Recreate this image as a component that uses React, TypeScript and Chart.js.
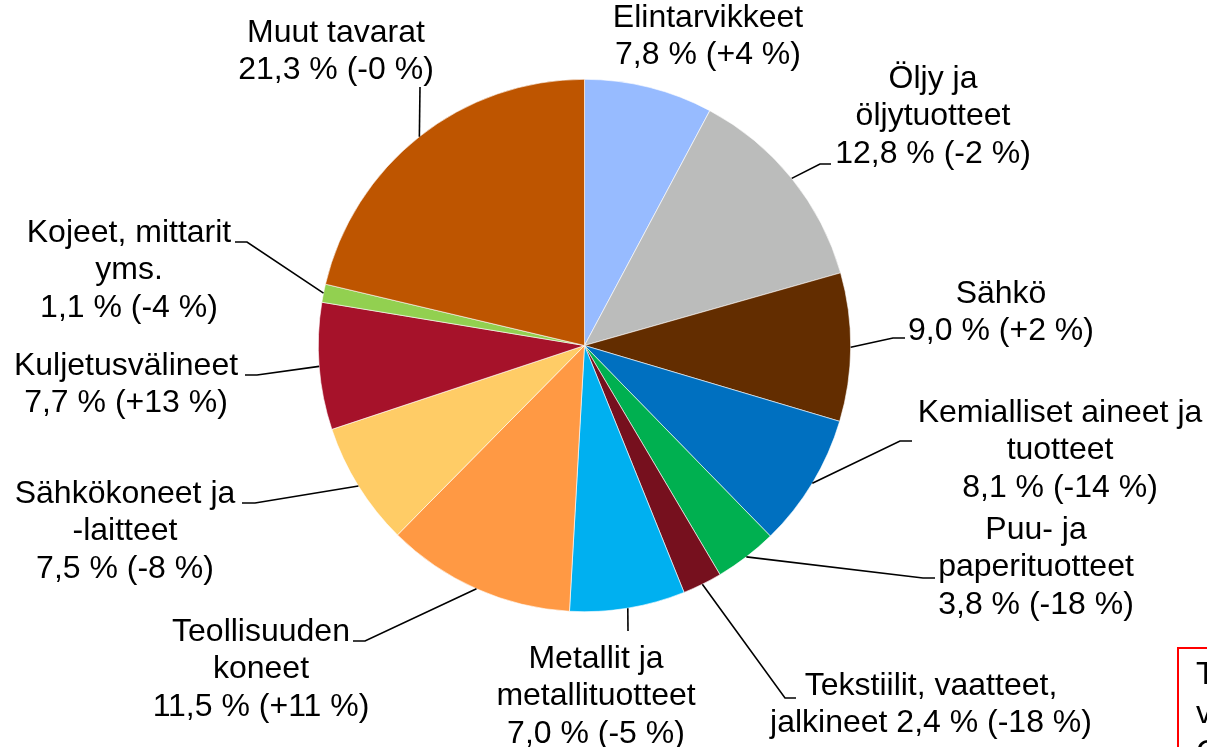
import React, { useEffect, useRef } from "react";
import { Chart, registerables } from "chart.js";

Chart.register(...registerables);

const categories = [
  "Elintarvikkeet",
  "Öljy ja öljytuotteet",
  "Sähkö",
  "Kemialliset aineet ja tuotteet",
  "Puu- ja paperituotteet",
  "Tekstiilit, vaatteet, jalkineet",
  "Metallit ja metallituotteet",
  "Teollisuuden koneet",
  "Sähkökoneet ja -laitteet",
  "Kuljetusvälineet",
  "Kojeet, mittarit yms.",
  "Muut tavarat",
];

const shares = [7.8, 12.8, 9.0, 8.1, 3.8, 2.4, 7.0, 11.5, 7.5, 7.7, 1.1, 21.3];
const changes = [4, -2, 2, -14, -18, -18, -5, 11, -8, 13, -4, -0];

const colors = [
  "#97BBFF",
  "#BBBCBB",
  "#632D00",
  "#0070C0",
  "#00B050",
  "#76101E",
  "#00B0F0",
  "#FF9944",
  "#FFCC66",
  "#A6122A",
  "#92D050",
  "#BE5500",
];

// label name lines (value text appended as separate line unless joined)
const labelNameLines: string[][] = [
  ["Elintarvikkeet"],
  ["Öljy ja", "öljytuotteet"],
  ["Sähkö"],
  ["Kemialliset aineet ja", "tuotteet"],
  ["Puu- ja", "paperituotteet"],
  ["Tekstiilit, vaatteet,", "jalkineet"],
  ["Metallit ja", "metallituotteet"],
  ["Teollisuuden", "koneet"],
  ["Sähkökoneet ja", "-laitteet"],
  ["Kuljetusvälineet"],
  ["Kojeet, mittarit", "yms."],
  ["Muut tavarat"],
];
const labelJoinValue = [false, false, false, false, false, true, false, false, false, false, false, false];

// label layout: text center x, first line center y, leader bend/end points
const labelLayout: { x: number; y: number; leader: number[][] | null }[] = [
  { x: 708, y: 18, leader: null },
  { x: 933, y: 79, leader: [[820, 164], [831, 164]] },
  { x: 1001, y: 294, leader: [[893, 338], [905, 338]] },
  { x: 1060, y: 413, leader: [[900, 441], [912, 441]] },
  { x: 1036, y: 530, leader: [[923, 578], [935, 578]] },
  { x: 931, y: 686, leader: [[785, 698], [796, 698]] },
  { x: 596, y: 659, leader: [[628, 631]] },
  { x: 261, y: 632, leader: [[365, 641], [353, 641]] },
  { x: 125, y: 494, leader: [[255, 503], [242, 503]] },
  { x: 126, y: 366, leader: [[257, 375], [245, 375]] },
  { x: 129, y: 233, leader: [[247, 242], [235, 242]] },
  { x: 336, y: 33, leader: [[420, 87]] },
];

const LINE_H = 37.5;
const FONT = '32px "Liberation Sans", Arial, sans-serif';

function fmtNum(v: number): string {
  return v.toFixed(1).replace(".", ",");
}
function fmtChange(v: number): string {
  const neg = v < 0 || Object.is(v, -0);
  return (neg ? "-" : "+") + Math.abs(v).toString();
}

const labelsPlugin = {
  id: "pieLabels",
  afterDraw(chart: any) {
    const ctx: CanvasRenderingContext2D = chart.ctx;
    const meta = chart.getDatasetMeta(0);
    ctx.save();
    meta.data.forEach((arc: any, i: number) => {
      const p = arc.getProps(["x", "y", "startAngle", "endAngle", "outerRadius"], true);
      const mid = (p.startAngle + p.endAngle) / 2;
      const sx = p.x + Math.cos(mid) * p.outerRadius;
      const sy = p.y + Math.sin(mid) * p.outerRadius;
      const lay = labelLayout[i];
      if (lay.leader) {
        ctx.beginPath();
        ctx.strokeStyle = "#000";
        ctx.lineWidth = 1.6;
        ctx.moveTo(sx, sy);
        lay.leader.forEach((pt) => ctx.lineTo(pt[0], pt[1]));
        ctx.stroke();
      }
      const valueText = `${fmtNum(shares[i])} % (${fmtChange(changes[i])} %)`;
      const lines = labelNameLines[i].slice();
      if (labelJoinValue[i]) lines[lines.length - 1] += " " + valueText;
      else lines.push(valueText);
      ctx.fillStyle = "#000";
      ctx.font = FONT;
      ctx.textAlign = "center";
      ctx.textBaseline = "middle";
      lines.forEach((ln, k) => ctx.fillText(ln, lay.x, lay.y + k * LINE_H));
    });

    // partially visible note box at the bottom right
    ctx.strokeStyle = "#FF0000";
    ctx.lineWidth = 2;
    ctx.strokeRect(1178, 648, 120, 200);
    ctx.fillStyle = "#000";
    ctx.font = FONT;
    ctx.textAlign = "left";
    ctx.textBaseline = "middle";
    ["T", "v", "C"].forEach((t, k) => ctx.fillText(t, 1196, 675 + k * 39));
    ctx.restore();
  },
};

export default function App() {
  const ref = useRef<HTMLCanvasElement | null>(null);
  useEffect(() => {
    if (!ref.current) return;
    const chart = new Chart(ref.current, {
      type: "pie",
      data: {
        labels: categories,
        datasets: [
          {
            data: shares,
            backgroundColor: colors,
            borderWidth: 0.6,
            borderColor: "#ffffff",
          },
        ],
      },
      options: {
        responsive: false,
        animation: false,
        layout: { padding: { top: 79, bottom: 135, left: 318, right: 356 } },
        plugins: {
          legend: { display: false },
          tooltip: { enabled: false },
        },
      },
      plugins: [labelsPlugin],
    });
    return () => chart.destroy();
  }, []);
  return (
    <div style={{ position: "fixed", left: 0, top: 0, width: 1207, height: 747, background: "#fff" }}>
      <canvas ref={ref} width={1207} height={747} />
    </div>
  );
}
